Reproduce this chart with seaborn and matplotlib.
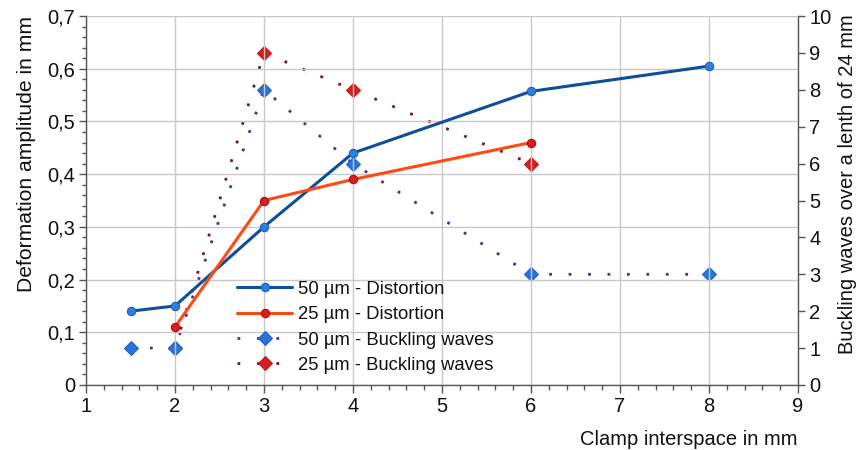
import matplotlib
matplotlib.use("Agg")
import matplotlib.pyplot as plt
from matplotlib.ticker import MultipleLocator, FuncFormatter
import seaborn as sns
import pandas as pd

# ---- data ----
x_50_dist = [1.5, 2, 3, 4, 6, 8]
y_50_dist = [0.14, 0.15, 0.30, 0.44, 0.557, 0.605]
x_25_dist = [2, 3, 4, 6]
y_25_dist = [0.11, 0.35, 0.39, 0.46]
x_50_buck = [1.5, 2, 3, 4, 6, 8]
y_50_buck = [1, 1, 8, 6, 3, 3]
x_25_buck = [2, 3, 4, 6]
y_25_buck = [1, 9, 8, 6]
labels = ["50 µm - Distortion", "25 µm - Distortion",
          "50 µm - Buckling waves", "25 µm - Buckling waves"]

sns.set_theme(style="white")
plt.rcParams["font.family"] = ["Liberation Sans", "DejaVu Sans"]

fig = plt.figure(figsize=(8.59, 4.5), dpi=100)
ax = fig.add_axes([86/859, 1-385/450, (798-86)/859, (385-16)/450])
ax2 = ax.twinx()

df1 = pd.DataFrame({"x": x_50_dist, "y": y_50_dist})
df2 = pd.DataFrame({"x": x_25_dist, "y": y_25_dist})
df3 = pd.DataFrame({"x": x_50_buck, "y": y_50_buck})
df4 = pd.DataFrame({"x": x_25_buck, "y": y_25_buck})

blue = "#0d4f9a"
orange = "#ff4a14"
sns.lineplot(data=df1, x="x", y="y", ax=ax, color=blue, lw=2.2, marker="o",
             markersize=6, markerfacecolor="#2f7fe0", markeredgecolor="#1b5fc0",
             markeredgewidth=0.8, label=labels[0], legend=False, zorder=4)
sns.lineplot(data=df2, x="x", y="y", ax=ax, color=orange, lw=2.2, marker="o",
             markersize=6, markerfacecolor="#d81e1e", markeredgecolor="#b01010",
             markeredgewidth=0.8, label=labels[1], legend=False, zorder=4)
sns.lineplot(data=df4, x="x", y="y", ax=ax2, color="#7a0e3e", lw=2.0,
             linestyle=(0, (1, 6)), marker="D", markersize=7,
             markerfacecolor="#d42020", markeredgecolor="#c01818",
             label=labels[3], legend=False)
sns.lineplot(data=df3, x="x", y="y", ax=ax2, color="#5a2a88", lw=2.0,
             linestyle=(0, (1, 6)), marker="D", markersize=7,
             markerfacecolor="#2a74d8", markeredgecolor="#1e62c0",
             label=labels[2], legend=False)

ax.set_zorder(2)
ax.patch.set_visible(False)
ax2.set_zorder(1)

ax.set_xlim(1, 9)
ax.set_ylim(0, 0.7)
ax2.set_ylim(0, 10)
ax.xaxis.set_major_locator(MultipleLocator(1))
ax.xaxis.set_minor_locator(MultipleLocator(0.2))
ax.yaxis.set_major_locator(MultipleLocator(0.1))
ax.yaxis.set_minor_locator(MultipleLocator(0.02))
ax2.yaxis.set_major_locator(MultipleLocator(1))
ax.yaxis.set_major_formatter(FuncFormatter(
    lambda v, p: "0" if abs(v) < 1e-9 else f"{v:.1f}".replace(".", ",")))
ax2.yaxis.set_major_formatter(FuncFormatter(lambda v, p: f"{v:.0f}"))

ax2.grid(False)
ax.grid(True, which="major", color="#c8c8c8", lw=1.0)
ax.set_axisbelow(True)

for a in (ax, ax2):
    for s in a.spines.values():
        s.set_visible(False)
ax.spines["left"].set_visible(True)
ax.spines["bottom"].set_visible(True)
ax2.spines["right"].set_visible(True)
for s in (ax.spines["left"], ax.spines["bottom"], ax2.spines["right"]):
    s.set_color("#555555")
    s.set_linewidth(1.0)

tk = dict(labelsize=14.5, colors="#555555", labelcolor="#111111")
ax.tick_params(axis="x", which="major", direction="out", length=6, width=1, pad=3, bottom=True, **tk)
ax.tick_params(axis="x", which="minor", direction="out", length=3.5, width=1, bottom=True, colors="#555555")
ax.tick_params(axis="y", which="major", direction="out", length=5, width=1, pad=3, left=True, **tk)
ax.tick_params(axis="y", which="minor", direction="out", length=3, width=1, left=True, colors="#555555")
ax2.tick_params(axis="y", which="major", direction="out", length=5, width=1, pad=3, right=True, **tk)

ax.set_xlabel("Clamp interspace in mm", fontsize=14.5, color="#111111", loc="right", labelpad=10)
ax.set_ylabel("Deformation amplitude in mm", fontsize=15.2, color="#111111", labelpad=8)
ax2.set_ylabel("Buckling waves over a lenth of 24 mm", fontsize=14.5, color="#111111", labelpad=5)
ax.yaxis.label.set_y(0.625)
ax2.yaxis.label.set_y(0.545)

h1, l1 = ax.get_legend_handles_labels()
h2, l2 = ax2.get_legend_handles_labels()
hd = dict(zip(l1 + l2, h1 + h2))
leg = ax.legend([hd[l] for l in labels], labels, loc="upper left",
                bbox_to_anchor=(224/859, 1-268/450), bbox_transform=fig.transFigure,
                frameon=False, fontsize=13.3, handlelength=3.0, handletextpad=0.3,
                labelspacing=0.45, borderpad=0.2)
for t in leg.get_texts():
    t.set_color("#111111")

fig.savefig("out.png", dpi=100)
